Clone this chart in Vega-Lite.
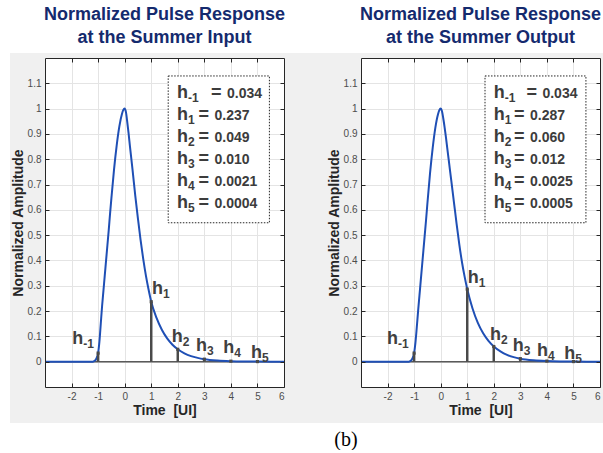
{
  "$schema": "https://vega.github.io/schema/vega-lite/v6.json",
  "padding": {"left": 9, "top": 5, "right": 0, "bottom": 0},
  "bounds": "flush",
  "spacing": 77,
  "config": {
    "view": {"stroke": null, "fill": "white"},
    "font": "Liberation Sans"
  },
  "datasets": {
    "curveA": [
      {"t": -3, "v": 0}, {"t": -2, "v": 0}, {"t": -1.2, "v": 0}, {"t": -1.15, "v": 0.002}, {"t": -1.1, "v": 0.006},
      {"t": -1.05, "v": 0.016}, {"t": -1, "v": 0.034}, {"t": -0.95, "v": 0.08}, {"t": -0.9, "v": 0.15},
      {"t": -0.85, "v": 0.22}, {"t": -0.8, "v": 0.28}, {"t": -0.75, "v": 0.34}, {"t": -0.7, "v": 0.4},
      {"t": -0.65, "v": 0.46}, {"t": -0.6, "v": 0.52}, {"t": -0.55, "v": 0.585}, {"t": -0.5, "v": 0.645},
      {"t": -0.4, "v": 0.76}, {"t": -0.3, "v": 0.855}, {"t": -0.2, "v": 0.93}, {"t": -0.1, "v": 0.98},
      {"t": -0.05, "v": 0.995}, {"t": 0, "v": 1}, {"t": 0.05, "v": 0.985}, {"t": 0.1, "v": 0.945},
      {"t": 0.15, "v": 0.9}, {"t": 0.2, "v": 0.85}, {"t": 0.3, "v": 0.755}, {"t": 0.4, "v": 0.655},
      {"t": 0.5, "v": 0.565}, {"t": 0.6, "v": 0.48}, {"t": 0.7, "v": 0.405}, {"t": 0.8, "v": 0.34},
      {"t": 0.9, "v": 0.285}, {"t": 1, "v": 0.237}, {"t": 1.2, "v": 0.173}, {"t": 1.4, "v": 0.126},
      {"t": 1.6, "v": 0.092}, {"t": 1.8, "v": 0.067}, {"t": 2, "v": 0.049}, {"t": 2.25, "v": 0.033},
      {"t": 2.5, "v": 0.022}, {"t": 2.75, "v": 0.015}, {"t": 3, "v": 0.01}, {"t": 3.5, "v": 0.0046},
      {"t": 4, "v": 0.0021}, {"t": 4.5, "v": 0.0009}, {"t": 5, "v": 0.0004}, {"t": 5.5, "v": 0.0002}, {"t": 6, "v": 0.0001}
    ],
    "curveB": [
      {"t": -3, "v": 0}, {"t": -2, "v": 0}, {"t": -1.2, "v": 0}, {"t": -1.15, "v": 0.002}, {"t": -1.1, "v": 0.006},
      {"t": -1.05, "v": 0.016}, {"t": -1, "v": 0.034}, {"t": -0.95, "v": 0.075}, {"t": -0.9, "v": 0.135},
      {"t": -0.85, "v": 0.2}, {"t": -0.8, "v": 0.26}, {"t": -0.75, "v": 0.32}, {"t": -0.7, "v": 0.38},
      {"t": -0.65, "v": 0.44}, {"t": -0.6, "v": 0.5}, {"t": -0.55, "v": 0.56}, {"t": -0.5, "v": 0.625},
      {"t": -0.4, "v": 0.745}, {"t": -0.3, "v": 0.845}, {"t": -0.2, "v": 0.925}, {"t": -0.1, "v": 0.978},
      {"t": -0.05, "v": 0.994}, {"t": 0, "v": 1}, {"t": 0.05, "v": 0.99}, {"t": 0.1, "v": 0.96},
      {"t": 0.15, "v": 0.925}, {"t": 0.2, "v": 0.885}, {"t": 0.3, "v": 0.8}, {"t": 0.4, "v": 0.715},
      {"t": 0.5, "v": 0.63}, {"t": 0.6, "v": 0.545}, {"t": 0.7, "v": 0.465}, {"t": 0.8, "v": 0.395},
      {"t": 0.9, "v": 0.337}, {"t": 1, "v": 0.287}, {"t": 1.2, "v": 0.21}, {"t": 1.4, "v": 0.153},
      {"t": 1.6, "v": 0.112}, {"t": 1.8, "v": 0.082}, {"t": 2, "v": 0.06}, {"t": 2.25, "v": 0.041},
      {"t": 2.5, "v": 0.027}, {"t": 2.75, "v": 0.018}, {"t": 3, "v": 0.012}, {"t": 3.5, "v": 0.0055},
      {"t": 4, "v": 0.0025}, {"t": 4.5, "v": 0.0011}, {"t": 5, "v": 0.0005}, {"t": 5.5, "v": 0.0002}, {"t": 6, "v": 0.0001}
    ],
    "stemsA": [
      {"t": -1, "h": 0.034, "sub": "-1", "lx": -1.97, "ly": 0.069, "val": "0.034", "ky": 1.043, "ex": 3.25},
      {"t": 1, "h": 0.237, "sub": "1", "lx": 1.03, "ly": 0.269, "val": "0.237", "ky": 0.956, "ex": 2.78},
      {"t": 2, "h": 0.049, "sub": "2", "lx": 1.77, "ly": 0.078, "val": "0.049", "ky": 0.869, "ex": 2.78},
      {"t": 3, "h": 0.010, "sub": "3", "lx": 2.69, "ly": 0.044, "val": "0.010", "ky": 0.782, "ex": 2.78},
      {"t": 4, "h": 0.0021, "sub": "4", "lx": 3.71, "ly": 0.033, "val": "0.0021", "ky": 0.695, "ex": 2.78},
      {"t": 5, "h": 0.0004, "sub": "5", "lx": 4.76, "ly": 0.015, "val": "0.0004", "ky": 0.608, "ex": 2.78}
    ],
    "stemsB": [
      {"t": -1, "h": 0.034, "sub": "-1", "lx": -2.02, "ly": 0.069, "val": "0.034", "ky": 1.043, "ex": 3.23},
      {"t": 1, "h": 0.287, "sub": "1", "lx": 1.02, "ly": 0.312, "val": "0.287", "ky": 0.956, "ex": 2.76},
      {"t": 2, "h": 0.060, "sub": "2", "lx": 1.86, "ly": 0.084, "val": "0.060", "ky": 0.869, "ex": 2.76},
      {"t": 3, "h": 0.012, "sub": "3", "lx": 2.71, "ly": 0.044, "val": "0.012", "ky": 0.782, "ex": 2.76},
      {"t": 4, "h": 0.0025, "sub": "4", "lx": 3.63, "ly": 0.022, "val": "0.0025", "ky": 0.695, "ex": 2.76},
      {"t": 5, "h": 0.0005, "sub": "5", "lx": 4.65, "ly": 0.009, "val": "0.0005", "ky": 0.608, "ex": 2.76}
    ]
  },
  "hconcat": [
    {
      "width": 239, "height": 329,
      "title": {"text": ["Normalized Pulse Response", "at the Summer Input"], "font": "Liberation Sans", "fontSize": 18, "fontWeight": "bold", "color": "#142a6e", "lineHeight": 23, "frame": "group", "anchor": "middle", "offset": -8, "baseline": "alphabetic"},
      "resolve": {"axis": {"x": "independent", "y": "independent"}},
      "layer": [
        {"data": {"values": [{}]}, "mark": {"type": "rect", "color": "#f0f0f0"},
         "encoding": {"x": {"datum": -4.32, "type": "quantitative", "scale": {"domain": [-3, 6], "nice": false, "zero": false}, "axis": null}, "x2": {"datum": -3},
                      "y": {"datum": -0.242, "type": "quantitative", "scale": {"domain": [-0.1, 1.2], "nice": false, "zero": false}, "axis": null}, "y2": {"datum": 1.22}}},
        {"data": {"values": [{}]}, "mark": {"type": "rect", "color": "#f0f0f0"},
         "encoding": {"x": {"datum": 6, "type": "quantitative", "scale": {"domain": [-3, 6], "nice": false, "zero": false}, "axis": null}, "x2": {"datum": 7.5},
                      "y": {"datum": -0.242, "type": "quantitative", "scale": {"domain": [-0.1, 1.2], "nice": false, "zero": false}, "axis": null}, "y2": {"datum": 1.22}}},
        {"data": {"values": [{}]}, "mark": {"type": "rect", "color": "#f0f0f0"},
         "encoding": {"x": {"datum": -3, "type": "quantitative", "scale": {"domain": [-3, 6], "nice": false, "zero": false}, "axis": null}, "x2": {"datum": 6},
                      "y": {"datum": 1.2, "type": "quantitative", "scale": {"domain": [-0.1, 1.2], "nice": false, "zero": false}, "axis": null}, "y2": {"datum": 1.22}}},
        {"data": {"values": [{}]}, "mark": {"type": "rect", "color": "#f0f0f0"},
         "encoding": {"x": {"datum": -3, "type": "quantitative", "scale": {"domain": [-3, 6], "nice": false, "zero": false}, "axis": null}, "x2": {"datum": 6},
                      "y": {"datum": -0.242, "type": "quantitative", "scale": {"domain": [-0.1, 1.2], "nice": false, "zero": false}, "axis": null}, "y2": {"datum": -0.1}}},
        {"data": {"values": [{}]}, "mark": {"type": "rule", "color": "#5a5a5a", "strokeWidth": 1.5},
         "encoding": {"x": {"datum": -3, "type": "quantitative", "scale": {"domain": [-3, 6], "nice": false, "zero": false},
                            "axis": {"orient": "bottom", "values": [-2, -1, 0, 1, 2, 3, 4, 5, 6], "labelExpr": "'' + datum.value", "tickSize": -4, "labelPadding": 8, "tickColor": "#262626", "domainColor": "#262626", "labelColor": "#4d4d4d", "labelFont": "Liberation Sans", "labelFontSize": 10, "grid": false, "zindex": 1, "title": "Time\u00a0 [UI]", "titleFont": "Liberation Sans", "titleFontSize": 14, "titleFontWeight": "bold", "titleColor": "#262626", "titlePadding": 2}},
                      "x2": {"datum": 6},
                      "y": {"datum": 0, "type": "quantitative", "scale": {"domain": [-0.1, 1.2], "nice": false, "zero": false},
                            "axis": {"orient": "left", "values": [0, 0.1, 0.2, 0.3, 0.4, 0.5, 0.6, 0.7, 0.8, 0.9, 1, 1.1], "labelExpr": "'' + datum.value", "tickSize": -4, "labelPadding": 8, "tickColor": "#262626", "domainColor": "#262626", "labelColor": "#4d4d4d", "labelFont": "Liberation Sans", "labelFontSize": 10, "grid": false, "zindex": 1, "title": "Normalized Amplitude", "titleFont": "Liberation Sans", "titleFontSize": 14, "titleFontWeight": "bold", "titleColor": "#262626", "titlePadding": 2}}}},
        {"data": {"name": "curveA"}, "mark": {"type": "line", "color": "#1f4fb5", "strokeWidth": 2, "interpolate": "monotone"},
         "encoding": {"x": {"field": "t", "type": "quantitative", "scale": {"domain": [-3, 6], "nice": false, "zero": false},
                            "axis": {"orient": "bottom", "values": [-2, -1, 0, 1, 2, 3, 4, 5], "grid": true, "gridColor": "#e4e4e4", "labels": false, "ticks": false, "domain": false, "title": null, "zindex": 0}},
                      "y": {"field": "v", "type": "quantitative", "scale": {"domain": [-0.1, 1.2], "nice": false, "zero": false},
                            "axis": {"orient": "left", "values": [0, 0.1, 0.2, 0.3, 0.4, 0.5, 0.6, 0.7, 0.8, 0.9, 1, 1.1], "grid": true, "gridColor": "#e4e4e4", "labels": false, "ticks": false, "domain": false, "title": null, "zindex": 0}}}},
        {"data": {"name": "stemsA"}, "mark": {"type": "rule", "color": "#4a4a4a", "strokeWidth": 2.5},
         "encoding": {"x": {"field": "t", "type": "quantitative", "scale": {"domain": [-3, 6], "nice": false, "zero": false},
                            "axis": {"orient": "top", "values": [-2, -1, 0, 1, 2, 3, 4, 5], "labels": false, "tickSize": -4, "tickColor": "#262626", "domainColor": "#262626", "grid": false, "title": null, "zindex": 1}},
                      "y": {"field": "h", "type": "quantitative", "scale": {"domain": [-0.1, 1.2], "nice": false, "zero": false},
                            "axis": {"orient": "right", "values": [0, 0.1, 0.2, 0.3, 0.4, 0.5, 0.6, 0.7, 0.8, 0.9, 1, 1.1], "labels": false, "tickSize": -4, "tickColor": "#262626", "domainColor": "#262626", "grid": false, "title": null, "zindex": 1}},
                      "y2": {"datum": 0}}},
        {"data": {"name": "stemsA"}, "mark": {"type": "point", "shape": "square", "filled": true, "size": 10, "color": "#4a4a4a", "opacity": 1},
         "encoding": {"x": {"field": "t", "type": "quantitative", "axis": null}, "y": {"field": "h", "type": "quantitative", "axis": null}}},
        {"data": {"name": "stemsA"}, "mark": {"type": "text", "align": "left", "baseline": "alphabetic", "fontSize": 18, "fontWeight": "bold", "color": "#404040"},
         "encoding": {"x": {"field": "lx", "type": "quantitative", "axis": null}, "y": {"field": "ly", "type": "quantitative", "axis": null}, "text": {"value": "h"}}},
        {"data": {"name": "stemsA"}, "mark": {"type": "text", "align": "left", "baseline": "alphabetic", "fontSize": 12, "fontWeight": "bold", "color": "#404040", "dx": 11, "dy": 4},
         "encoding": {"x": {"field": "lx", "type": "quantitative", "axis": null}, "y": {"field": "ly", "type": "quantitative", "axis": null}, "text": {"field": "sub"}}},
        {"data": {"values": [{}]}, "mark": {"type": "rect", "fill": "white", "stroke": "#262626", "strokeWidth": 1, "strokeDash": [1.5, 1.5]},
         "encoding": {"x": {"datum": 1.64, "type": "quantitative", "axis": null}, "x2": {"datum": 5.45},
                      "y": {"datum": 0.549, "type": "quantitative", "axis": null}, "y2": {"datum": 1.129}}},
        {"data": {"name": "stemsA"}, "mark": {"type": "text", "align": "left", "baseline": "alphabetic", "fontSize": 18, "fontWeight": "bold", "color": "#3c3c3c"},
         "encoding": {"x": {"datum": 1.97, "type": "quantitative", "axis": null}, "y": {"field": "ky", "type": "quantitative", "axis": null}, "text": {"value": "h"}}},
        {"data": {"name": "stemsA"}, "mark": {"type": "text", "align": "left", "baseline": "alphabetic", "fontSize": 12, "fontWeight": "bold", "color": "#3c3c3c", "dx": 11, "dy": 4},
         "encoding": {"x": {"datum": 1.97, "type": "quantitative", "axis": null}, "y": {"field": "ky", "type": "quantitative", "axis": null}, "text": {"field": "sub"}}},
        {"data": {"name": "stemsA"}, "mark": {"type": "text", "align": "left", "baseline": "alphabetic", "fontSize": 18, "fontWeight": "bold", "color": "#3c3c3c"},
         "encoding": {"x": {"field": "ex", "type": "quantitative", "axis": null}, "y": {"field": "ky", "type": "quantitative", "axis": null}, "text": {"value": "="}}},
        {"data": {"name": "stemsA"}, "mark": {"type": "text", "align": "left", "baseline": "alphabetic", "fontSize": 14, "fontWeight": "bold", "color": "#3c3c3c", "dx": 16},
         "encoding": {"x": {"field": "ex", "type": "quantitative", "axis": null}, "y": {"field": "ky", "type": "quantitative", "axis": null}, "text": {"field": "val"}}}
      ]
    },
    {
      "width": 239, "height": 329,
      "title": {"text": ["Normalized Pulse Response", "at the Summer Output"], "font": "Liberation Sans", "fontSize": 18, "fontWeight": "bold", "color": "#142a6e", "lineHeight": 23, "frame": "group", "anchor": "middle", "offset": -8, "baseline": "alphabetic"},
      "resolve": {"axis": {"x": "independent", "y": "independent"}},
      "layer": [
        {"data": {"values": [{}]}, "mark": {"type": "rect", "color": "#f0f0f0"},
         "encoding": {"x": {"datum": -5.26, "type": "quantitative", "scale": {"domain": [-3, 6], "nice": false, "zero": false}, "axis": null}, "x2": {"datum": -3},
                      "y": {"datum": -0.242, "type": "quantitative", "scale": {"domain": [-0.1, 1.2], "nice": false, "zero": false}, "axis": null}, "y2": {"datum": 1.22}}},
        {"data": {"values": [{}]}, "mark": {"type": "rect", "color": "#f0f0f0"},
         "encoding": {"x": {"datum": 6, "type": "quantitative", "scale": {"domain": [-3, 6], "nice": false, "zero": false}, "axis": null}, "x2": {"datum": 6.15},
                      "y": {"datum": -0.242, "type": "quantitative", "scale": {"domain": [-0.1, 1.2], "nice": false, "zero": false}, "axis": null}, "y2": {"datum": 1.22}}},
        {"data": {"values": [{}]}, "mark": {"type": "rect", "color": "#f0f0f0"},
         "encoding": {"x": {"datum": -3, "type": "quantitative", "scale": {"domain": [-3, 6], "nice": false, "zero": false}, "axis": null}, "x2": {"datum": 6},
                      "y": {"datum": 1.2, "type": "quantitative", "scale": {"domain": [-0.1, 1.2], "nice": false, "zero": false}, "axis": null}, "y2": {"datum": 1.22}}},
        {"data": {"values": [{}]}, "mark": {"type": "rect", "color": "#f0f0f0"},
         "encoding": {"x": {"datum": -3, "type": "quantitative", "scale": {"domain": [-3, 6], "nice": false, "zero": false}, "axis": null}, "x2": {"datum": 6},
                      "y": {"datum": -0.242, "type": "quantitative", "scale": {"domain": [-0.1, 1.2], "nice": false, "zero": false}, "axis": null}, "y2": {"datum": -0.1}}},
        {"data": {"values": [{}]}, "mark": {"type": "rule", "color": "#5a5a5a", "strokeWidth": 1.5},
         "encoding": {"x": {"datum": -3, "type": "quantitative", "scale": {"domain": [-3, 6], "nice": false, "zero": false},
                            "axis": {"orient": "bottom", "values": [-2, -1, 0, 1, 2, 3, 4, 5, 6], "labelExpr": "'' + datum.value", "tickSize": -4, "labelPadding": 8, "tickColor": "#262626", "domainColor": "#262626", "labelColor": "#4d4d4d", "labelFont": "Liberation Sans", "labelFontSize": 10, "grid": false, "zindex": 1, "title": "Time\u00a0 [UI]", "titleFont": "Liberation Sans", "titleFontSize": 14, "titleFontWeight": "bold", "titleColor": "#262626", "titlePadding": 2}},
                      "x2": {"datum": 6},
                      "y": {"datum": 0, "type": "quantitative", "scale": {"domain": [-0.1, 1.2], "nice": false, "zero": false},
                            "axis": {"orient": "left", "values": [0, 0.1, 0.2, 0.3, 0.4, 0.5, 0.6, 0.7, 0.8, 0.9, 1, 1.1], "labelExpr": "'' + datum.value", "tickSize": -4, "labelPadding": 8, "tickColor": "#262626", "domainColor": "#262626", "labelColor": "#4d4d4d", "labelFont": "Liberation Sans", "labelFontSize": 10, "grid": false, "zindex": 1, "title": "Normalized Amplitude", "titleFont": "Liberation Sans", "titleFontSize": 14, "titleFontWeight": "bold", "titleColor": "#262626", "titlePadding": 2}}}},
        {"data": {"name": "curveB"}, "mark": {"type": "line", "color": "#1f4fb5", "strokeWidth": 2, "interpolate": "monotone"},
         "encoding": {"x": {"field": "t", "type": "quantitative", "scale": {"domain": [-3, 6], "nice": false, "zero": false},
                            "axis": {"orient": "bottom", "values": [-2, -1, 0, 1, 2, 3, 4, 5], "grid": true, "gridColor": "#e4e4e4", "labels": false, "ticks": false, "domain": false, "title": null, "zindex": 0}},
                      "y": {"field": "v", "type": "quantitative", "scale": {"domain": [-0.1, 1.2], "nice": false, "zero": false},
                            "axis": {"orient": "left", "values": [0, 0.1, 0.2, 0.3, 0.4, 0.5, 0.6, 0.7, 0.8, 0.9, 1, 1.1], "grid": true, "gridColor": "#e4e4e4", "labels": false, "ticks": false, "domain": false, "title": null, "zindex": 0}}}},
        {"data": {"name": "stemsB"}, "mark": {"type": "rule", "color": "#4a4a4a", "strokeWidth": 2.5},
         "encoding": {"x": {"field": "t", "type": "quantitative", "scale": {"domain": [-3, 6], "nice": false, "zero": false},
                            "axis": {"orient": "top", "values": [-2, -1, 0, 1, 2, 3, 4, 5], "labels": false, "tickSize": -4, "tickColor": "#262626", "domainColor": "#262626", "grid": false, "title": null, "zindex": 1}},
                      "y": {"field": "h", "type": "quantitative", "scale": {"domain": [-0.1, 1.2], "nice": false, "zero": false},
                            "axis": {"orient": "right", "values": [0, 0.1, 0.2, 0.3, 0.4, 0.5, 0.6, 0.7, 0.8, 0.9, 1, 1.1], "labels": false, "tickSize": -4, "tickColor": "#262626", "domainColor": "#262626", "grid": false, "title": null, "zindex": 1}},
                      "y2": {"datum": 0}}},
        {"data": {"name": "stemsB"}, "mark": {"type": "point", "shape": "square", "filled": true, "size": 10, "color": "#4a4a4a", "opacity": 1},
         "encoding": {"x": {"field": "t", "type": "quantitative", "axis": null}, "y": {"field": "h", "type": "quantitative", "axis": null}}},
        {"data": {"name": "stemsB"}, "mark": {"type": "text", "align": "left", "baseline": "alphabetic", "fontSize": 18, "fontWeight": "bold", "color": "#404040"},
         "encoding": {"x": {"field": "lx", "type": "quantitative", "axis": null}, "y": {"field": "ly", "type": "quantitative", "axis": null}, "text": {"value": "h"}}},
        {"data": {"name": "stemsB"}, "mark": {"type": "text", "align": "left", "baseline": "alphabetic", "fontSize": 12, "fontWeight": "bold", "color": "#404040", "dx": 11, "dy": 4},
         "encoding": {"x": {"field": "lx", "type": "quantitative", "axis": null}, "y": {"field": "ly", "type": "quantitative", "axis": null}, "text": {"field": "sub"}}},
        {"data": {"values": [{}]}, "mark": {"type": "rect", "fill": "white", "stroke": "#262626", "strokeWidth": 1, "strokeDash": [1.5, 1.5]},
         "encoding": {"x": {"datum": 1.67, "type": "quantitative", "axis": null}, "x2": {"datum": 5.47},
                      "y": {"datum": 0.549, "type": "quantitative", "axis": null}, "y2": {"datum": 1.129}}},
        {"data": {"name": "stemsB"}, "mark": {"type": "text", "align": "left", "baseline": "alphabetic", "fontSize": 18, "fontWeight": "bold", "color": "#3c3c3c"},
         "encoding": {"x": {"datum": 2.0, "type": "quantitative", "axis": null}, "y": {"field": "ky", "type": "quantitative", "axis": null}, "text": {"value": "h"}}},
        {"data": {"name": "stemsB"}, "mark": {"type": "text", "align": "left", "baseline": "alphabetic", "fontSize": 12, "fontWeight": "bold", "color": "#3c3c3c", "dx": 11, "dy": 4},
         "encoding": {"x": {"datum": 2.0, "type": "quantitative", "axis": null}, "y": {"field": "ky", "type": "quantitative", "axis": null}, "text": {"field": "sub"}}},
        {"data": {"name": "stemsB"}, "mark": {"type": "text", "align": "left", "baseline": "alphabetic", "fontSize": 18, "fontWeight": "bold", "color": "#3c3c3c"},
         "encoding": {"x": {"field": "ex", "type": "quantitative", "axis": null}, "y": {"field": "ky", "type": "quantitative", "axis": null}, "text": {"value": "="}}},
        {"data": {"name": "stemsB"}, "mark": {"type": "text", "align": "left", "baseline": "alphabetic", "fontSize": 14, "fontWeight": "bold", "color": "#3c3c3c", "dx": 16},
         "encoding": {"x": {"field": "ex", "type": "quantitative", "axis": null}, "y": {"field": "ky", "type": "quantitative", "axis": null}, "text": {"field": "val"}}},
        {"data": {"values": [{}]}, "mark": {"type": "text", "align": "center", "baseline": "middle", "font": "Liberation Serif", "fontSize": 20, "color": "black"},
         "encoding": {"x": {"datum": -3.565, "type": "quantitative", "axis": null}, "y": {"datum": -0.308, "type": "quantitative", "axis": null}, "text": {"value": "(b)"}}}
      ]
    }
  ]
}
